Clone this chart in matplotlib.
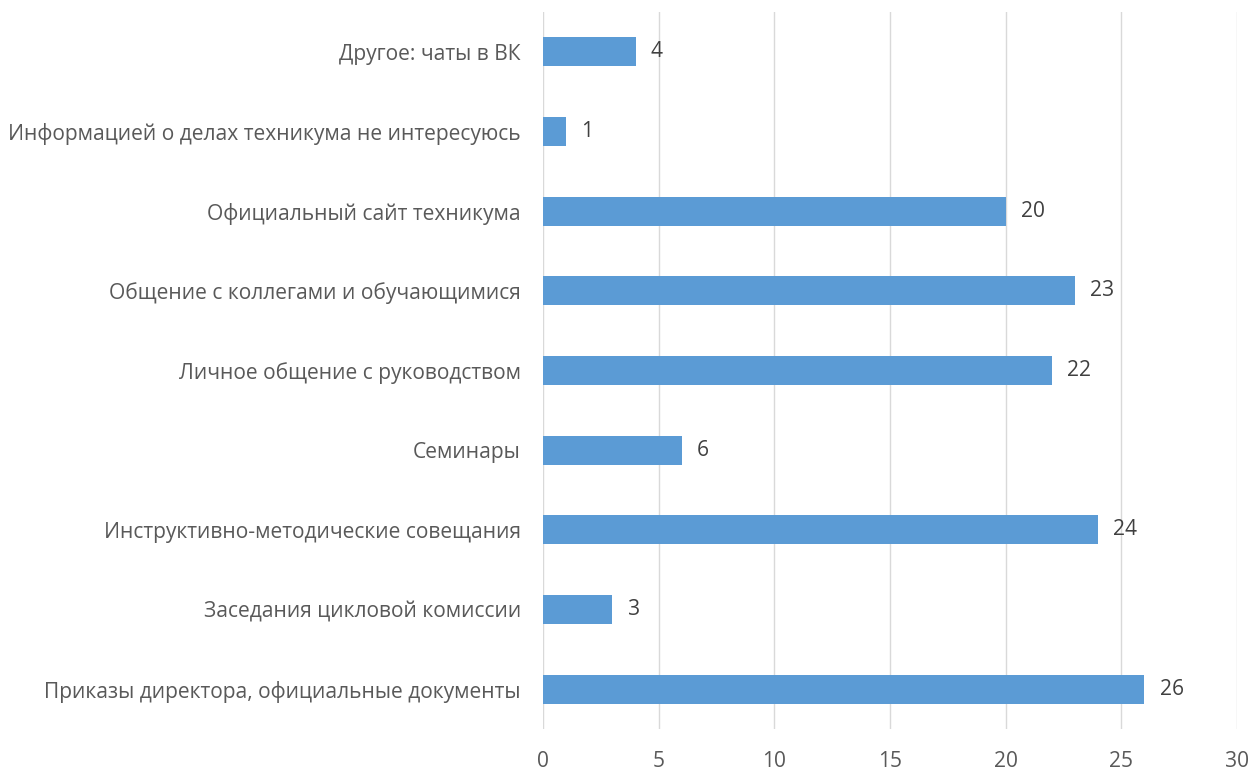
import matplotlib
matplotlib.use("Agg")
import matplotlib.pyplot as plt

categories = [
    "Приказы директора, официальные документы",
    "Заседания цикловой комиссии",
    "Инструктивно-методические совещания",
    "Семинары",
    "Личное общение с руководством",
    "Общение с коллегами и обучающимися",
    "Официальный сайт техникума",
    "Информацией о делах техникума не интересуюсь",
    "Другое: чаты в ВК",
]
values = [26, 3, 24, 6, 22, 23, 20, 1, 4]
xticks = [0, 5, 10, 15, 20, 25, 30]

plt.rcParams['font.family'] = ['Open Sans', 'DejaVu Sans']
text_color = '#595959'
fs = 15.1

fig = plt.figure(figsize=(12.53, 7.71), dpi=100)
ax = fig.add_axes([543/1253, 1 - 729/771, (1237-543)/1253, (729-12)/771])

ypos = list(range(len(categories)))
ax.barh(ypos, values, height=0.36, color='#5B9BD5', zorder=3)
for y, v in zip(ypos, values):
    ax.annotate(str(v), (v, y), xytext=(11, 0), textcoords='offset points',
                va='center', ha='left', fontsize=fs, color='#404040')

ax.set_xlim(0, 30)
ax.set_ylim(-0.5, len(categories) - 0.5)
ax.set_xticks(xticks)
ax.set_xticklabels([str(t) for t in xticks], fontsize=fs, color=text_color)
ax.set_yticks(ypos)
ax.set_yticklabels(categories, fontsize=fs, color=text_color)
ax.tick_params(axis='y', length=0, pad=16)
ax.tick_params(axis='x', length=0, pad=16)
ax.grid(axis='x', color='#D9D9D9', linewidth=1, zorder=0)
for s in ax.spines.values():
    s.set_visible(False)

fig.savefig('out.png', dpi=100, facecolor='white')
